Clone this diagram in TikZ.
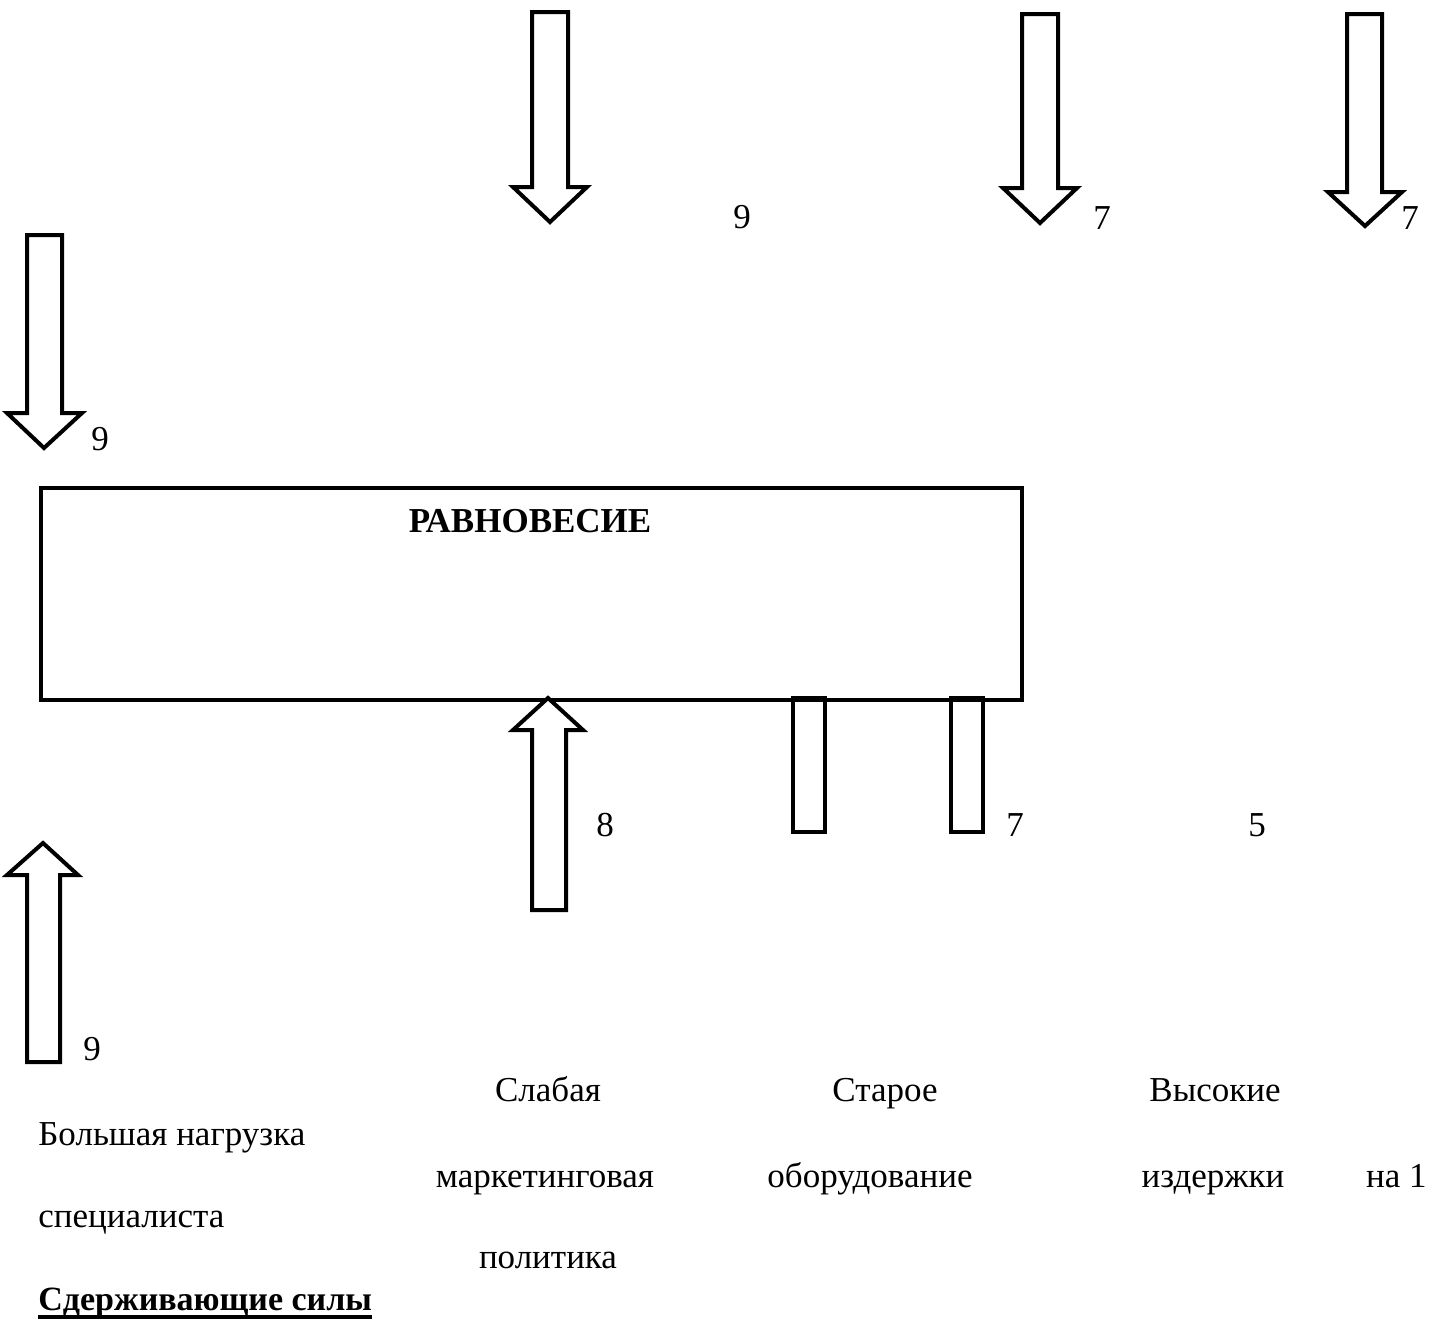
\documentclass[tikz,border=0pt]{standalone}
\usepackage{fontspec}
\setmainfont{Liberation Serif}
\begin{document}
\begin{tikzpicture}[x=0.5pt,y=-0.5pt,
  outl/.style={draw=black,line width=2pt,fill=white,line join=miter},
  txt/.style={inner sep=0pt,font=\fontsize{17.5pt}{21pt}\selectfont},
  lbl/.style={txt,anchor=base},
  lblw/.style={txt,anchor=base west},
  lble/.style={txt,anchor=base east}]
\useasboundingbox (0,0) rectangle (1435,1324);
% down arrows (top row)
\draw[outl] (532,12) -- (568,12) -- (568,187) -- (587,187) -- (550,222) -- (513,187) -- (532,187) -- cycle;
\draw[outl] (1022,14) -- (1058,14) -- (1058,188) -- (1077,188) -- (1040,223) -- (1003,188) -- (1022,188) -- cycle;
\draw[outl] (1347,14) -- (1382,14) -- (1382,192) -- (1402,192) -- (1365,226) -- (1328,192) -- (1347,192) -- cycle;
% left down arrow
\draw[outl] (27,235) -- (62,235) -- (62,413) -- (82,413) -- (44,448) -- (7,413) -- (27,413) -- cycle;
% rectangles hanging from the box
\draw[outl] (793,698) rectangle (825,832);
\draw[outl] (951,698) rectangle (983,832);
% box
\node[draw,line width=2pt,minimum width=490.5pt,minimum height=106pt,inner sep=0pt,anchor=north west] (box) at (38.5,486) {};
\node[txt,anchor=base,font=\fontsize{17.5pt}{21pt}\selectfont\bfseries] (eq) at (530,532) {РАВНОВЕСИЕ};
% up arrow under box
\coordinate (tip) at (548,698);
\draw[outl] (tip) -- (583,730) -- (566,730) -- (566,910) -- (532,910) -- (532,730) -- (513,730) -- cycle;
% bottom-left up arrow
\draw[outl] (43,843) -- (78,875) -- (60,875) -- (60,1062) -- (27,1062) -- (27,875) -- (7,875) -- cycle;
% numbers
\node[lbl] (n1) at (742,228) {9};
\node[lbl] (n2) at (1102,229) {7};
\node[lbl] (n3) at (1410,229) {7};
\node[lbl] (n4) at (100,450) {9};
\node[lbl] (n5) at (605,836) {8};
\node[lbl] (n6) at (1015,836) {7};
\node[lbl] (n7) at (1257,836) {5};
\node[lbl] (n8) at (92,1060) {9};
% texts
\node[lbl] (t1) at (548,1101) {Слабая};
\node[lbl] (t2) at (885,1101) {Старое};
\node[lbl] (t3) at (1215,1101) {Высокие};
\node[lblw] (t4) at (38,1145) {Большая нагрузка};
\node[lbl] (t5) at (545,1187) {маркетинговая};
\node[lbl] (t6) at (870,1187) {оборудование};
\node[lbl] (t7) at (1213,1187) {издержки};
\node[lble] (t8) at (1427,1187) {на 1};
\node[lblw] (t9) at (38,1227) {специалиста};
\node[lbl] (t10) at (548,1268) {политика};
\node[lblw,font=\fontsize{17pt}{21pt}\selectfont\bfseries] (t11) at (38,1310) {Сдерживающие силы};
\draw[line width=2pt] ([yshift=-3.5pt]t11.base west) -- ([yshift=-3.5pt]t11.base east);
\end{tikzpicture}
\end{document}
